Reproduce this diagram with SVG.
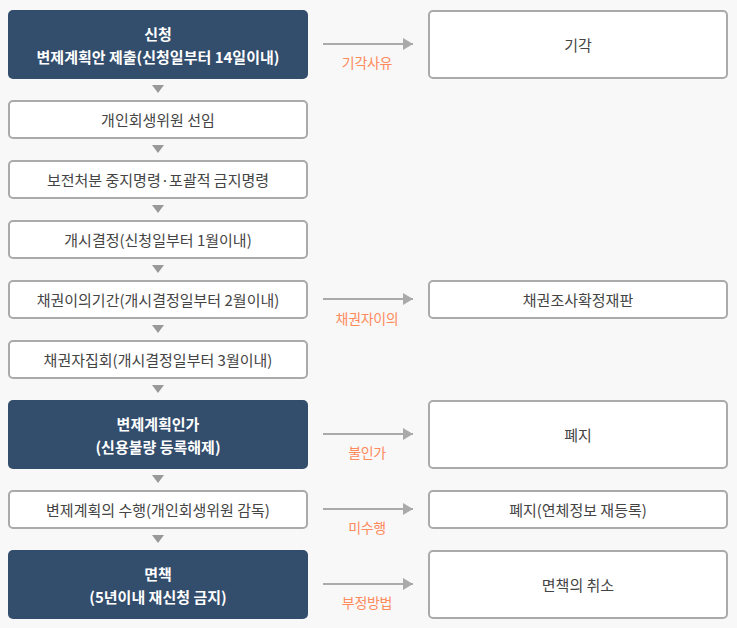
<svg xmlns="http://www.w3.org/2000/svg" width="737" height="628" viewBox="0 0 737 628">
<style>
text{font-family:"Noto Sans CJK KR","Noto Sans",sans-serif;font-size:15px;text-anchor:middle;dominant-baseline:central}
.d rect{fill:#334d6d}
.d text{fill:#fff;font-weight:bold}
.w rect{fill:#fff;stroke:#aaa;stroke-width:2}
.w text{fill:#444}
.lab{fill:#ff8a5c;font-size:14px;letter-spacing:-0.3px}
.ln{stroke:#aaa;stroke-width:2;fill:none}
.tri{fill:#999}
</style>
<defs>
<marker id="ah" viewBox="0 0 10 12" refX="10" refY="6" markerWidth="10" markerHeight="12" markerUnits="userSpaceOnUse" orient="auto"><path d="M0,0L10,6L0,12z" fill="#aaa"/></marker>
</defs>
<rect width="737" height="628" fill="#f8f8f8"/>
<g id="n1" class="d"><rect x="8" y="10" width="300" height="69" rx="5"/><text x="158" y="33">신청</text><text x="158" y="56">변제계획안 제출(신청일부터 14일이내)</text></g>
<g id="n2" class="w"><rect x="9" y="101" width="298" height="37" rx="4"/><text x="158" y="119.5">개인회생위원 선임</text></g>
<g id="n3" class="w"><rect x="9" y="161" width="298" height="37" rx="4"/><text x="158" y="179.5">보전처분 중지명령·포괄적 금지명령</text></g>
<g id="n4" class="w"><rect x="9" y="221" width="298" height="37" rx="4"/><text x="158" y="239.5">개시결정(신청일부터 1월이내)</text></g>
<g id="n5" class="w"><rect x="9" y="281" width="298" height="37" rx="4"/><text x="158" y="299.5">채권이의기간(개시결정일부터 2월이내)</text></g>
<g id="n6" class="w"><rect x="9" y="341" width="298" height="37" rx="4"/><text x="158" y="359.5">채권자집회(개시결정일부터 3월이내)</text></g>
<g id="n7" class="d"><rect x="8" y="400" width="300" height="69" rx="5"/><text x="158" y="423">변제계획인가</text><text x="158" y="446">(신용불량 등록해제)</text></g>
<g id="n8" class="w"><rect x="9" y="491" width="298" height="37" rx="4"/><text x="158" y="509.5">변제계획의 수행(개인회생위원 감독)</text></g>
<g id="n9" class="d"><rect x="8" y="550" width="300" height="69" rx="5"/><text x="158" y="573">면책</text><text x="158" y="596">(5년이내 재신청 금지)</text></g>
<g id="r1" class="w"><rect x="429" y="11" width="298" height="67" rx="4"/><text x="578" y="44.5">기각</text></g>
<g id="r2" class="w"><rect x="429" y="281" width="298" height="37" rx="4"/><text x="578" y="299.5">채권조사확정재판</text></g>
<g id="r3" class="w"><rect x="429" y="401" width="298" height="67" rx="4"/><text x="578" y="434.5">폐지</text></g>
<g id="r4" class="w"><rect x="429" y="491" width="298" height="37" rx="4"/><text x="578" y="509.5">폐지(연체정보 재등록)</text></g>
<g id="r5" class="w"><rect x="429" y="551" width="298" height="67" rx="4"/><text x="578" y="584.5">면책의 취소</text></g>
<g id="connectors">
<path class="tri" d="M152,85h12l-6,8z"/>
<path class="tri" d="M152,145h12l-6,8z"/>
<path class="tri" d="M152,205h12l-6,8z"/>
<path class="tri" d="M152,265h12l-6,8z"/>
<path class="tri" d="M152,325h12l-6,8z"/>
<path class="tri" d="M152,385h12l-6,8z"/>
<path class="tri" d="M152,475h12l-6,8z"/>
<path class="tri" d="M152,535h12l-6,8z"/>
<line class="ln" x1="323" y1="44" x2="413" y2="44" marker-end="url(#ah)"/>
<line class="ln" x1="323" y1="299" x2="413" y2="299" marker-end="url(#ah)"/>
<line class="ln" x1="323" y1="434" x2="413" y2="434" marker-end="url(#ah)"/>
<line class="ln" x1="323" y1="509" x2="413" y2="509" marker-end="url(#ah)"/>
<line class="ln" x1="323" y1="584" x2="413" y2="584" marker-end="url(#ah)"/>
<text class="lab" x="367" y="62">기각사유</text>
<text class="lab" x="367" y="318">채권자이의</text>
<text class="lab" x="367" y="452">불인가</text>
<text class="lab" x="367" y="527">미수행</text>
<text class="lab" x="367" y="602">부정방법</text>
</g>
</svg>
